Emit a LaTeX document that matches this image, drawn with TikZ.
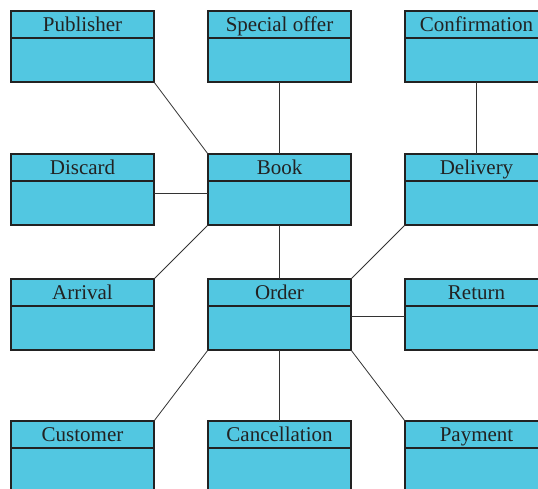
\documentclass[tikz,border=0pt]{standalone}
\usepackage{fontspec}
\setmainfont{Liberation Serif}
\definecolor{boxfill}{HTML}{52C7E1}
\definecolor{boxline}{HTML}{222222}
\definecolor{conline}{HTML}{333333}
\tikzset{
  umlbox/.style={draw=boxline, fill=boxfill, line width=1.1pt, minimum width=143pt, minimum height=71pt, anchor=north west, inner sep=0pt, outer sep=0pt},
  divline/.style={draw=boxline, line width=1.1pt},
  titletext/.style={anchor=base, inner sep=0pt, font=\fontsize{21}{24}\selectfont, text=boxline},
  conn/.style={draw=conline, line width=0.8pt}
}
\newcommand{\umlclass}[4]{%
  \node[umlbox] (#1) at (#2,#3) {};
  \draw[divline] ([yshift=-27pt]#1.north west) -- ([yshift=-27pt]#1.north east);
  \node[titletext] (#1t) at ([yshift=-20.5pt]#1.north) {#4};
}
\begin{document}
\begin{tikzpicture}[x=1pt,y=-1pt]
\useasboundingbox (0,0) rectangle (538,488);
\umlclass{pub}{11}{11}{Publisher}
\umlclass{spec}{208}{11}{Special offer}
\umlclass{conf}{405}{11}{Confirmation}
\umlclass{disc}{11}{154}{Discard}
\umlclass{book}{208}{154}{Book}
\umlclass{deliv}{405}{154}{Delivery}
\umlclass{arr}{11}{279}{Arrival}
\umlclass{order}{208}{279}{Order}
\umlclass{ret}{405}{279}{Return}
\umlclass{cust}{11}{421}{Customer}
\umlclass{canc}{208}{421}{Cancellation}
\umlclass{pay}{405}{421}{Payment}
\draw[conn] (pub.south east) -- (book.north west);
\draw[conn] (spec.south) -- (book.north);
\draw[conn] (conf.south) -- (deliv.north);
\draw[conn] ([yshift=-3.5pt]disc.east) -- ([yshift=-3.5pt]book.west);
\draw[conn] (book.south west) -- (arr.north east);
\draw[conn] (book.south) -- (order.north);
\draw[conn] (deliv.south west) -- (order.north east);
\draw[conn] ([yshift=-1.5pt]order.east) -- ([yshift=-1.5pt]ret.west);
\draw[conn] (order.south west) -- (cust.north east);
\draw[conn] (order.south) -- (canc.north);
\draw[conn] (order.south east) -- (pay.north west);
\end{tikzpicture}
\end{document}
